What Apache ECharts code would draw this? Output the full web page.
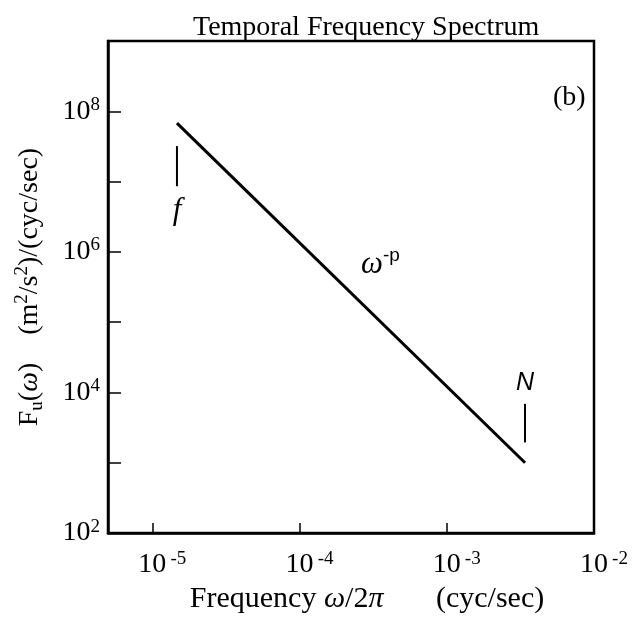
<!DOCTYPE html>
<html>
<head>
<meta charset="utf-8">
<script src="https://cdn.jsdelivr.net/npm/echarts@6/dist/echarts.min.js"></script>
<style>html,body{margin:0;padding:0;background:#fff}#c{width:635px;height:619px}</style>
</head>
<body>
<div id="c"></div>
<script>
// ---- data ----
const xRange = [5.0e-6, 1.0e-2];          // frequency axis extent (cyc/sec)
const yRange = [1.0e2, 1.0e9];            // spectral density axis extent
const xLabelExponents = [-5, -4, -3, -2]; // labelled decades on x
const yLabelExponents = [2, 4, 6, 8];     // labelled decades on y
const spectrumFreq  = [1.47e-5, 3.4e-3];  // ω^-p line end points
const spectrumPower = [6.8e7, 1.0e3];
const fMarkFreq  = [1.47e-5, 1.47e-5];    // inertial frequency marker
const fMarkPower = [3.2e7, 8.6e6];
const nMarkFreq  = [3.4e-3, 3.4e-3];      // buoyancy frequency marker
const nMarkPower = [6.9e3, 1.95e3];

const SERIF = '"Liberation Serif", "DejaVu Serif", serif';
const SANS = '"Liberation Sans", "DejaVu Sans", sans-serif';
const chart = echarts.init(document.getElementById('c'), null, {renderer: 'canvas'});

function pairs(xs, ys) { return xs.map((x, i) => [x, ys[i]]); }
function expOf(v) { const e = Math.log10(v); return Math.abs(e - Math.round(e)) < 0.02 ? Math.round(e) : null; }

const supRich = {
  b: {fontFamily: SERIF, fontSize: 28, lineHeight: 32, color: '#000'},
  s: {fontFamily: SERIF, fontSize: 19, lineHeight: 14, verticalAlign: 'top', color: '#000'}
};

const option = {
  animation: false,
  backgroundColor: '#fff',
  title: {
    text: 'Temporal Frequency Spectrum',
    left: 188, top: 9,
    textStyle: {fontFamily: SERIF, fontSize: 28, fontWeight: 'normal', color: '#000'}
  },
  grid: {left: 108, right: 29, top: 41, bottom: 79, show: true, borderColor: '#000', borderWidth: 2.5, containLabel: false},
  xAxis: {
    type: 'log', logBase: 10, min: xRange[0], max: xRange[1],
    name: '{t|Frequency }{g|ω}{t|/2}{g|π}{t|       (cyc/sec)}',
    nameLocation: 'middle', nameGap: 47,
    nameTextStyle: {
      padding: [0, 0, 0, 32],
      rich: {
        t: {fontFamily: SERIF, fontSize: 30, color: '#000'},
        g: {fontFamily: SERIF, fontSize: 30, fontStyle: 'italic', color: '#000'}
      }
    },
    axisLine: {show: true, onZero: false, lineStyle: {color: '#000', width: 2.5}},
    axisTick: {show: true, inside: true, length: 10, lineStyle: {color: '#000', width: 1.5}},
    splitLine: {show: false},
    minorTick: {show: false},
    axisLabel: {
      margin: 16,
      formatter: function (v) {
        const e = expOf(v);
        if (e === null || xLabelExponents.indexOf(e) < 0) return '';
        return '{p| }{b|10}{s|' + e + '}';
      },
      rich: {
        p: {width: 24, fontSize: 15},
        b: supRich.b,
        s: {fontFamily: SERIF, fontSize: 19, lineHeight: 14, verticalAlign: 'top', color: '#000', width: 24, align: 'left'}
      }
    }
  },
  yAxis: {
    type: 'log', logBase: 10, min: yRange[0], max: yRange[1], splitNumber: 7,
    name: '{t|F}{sub|u}{t|(}{g|ω}{t|)    (m}{sup|2}{t|/s}{sup|2}{t|)/(cyc/sec)}',
    nameLocation: 'middle', nameGap: 61, nameRotate: 90,
    nameTextStyle: {
      rich: {
        t: {fontFamily: SERIF, fontSize: 28, lineHeight: 34, color: '#000'},
        g: {fontFamily: SERIF, fontSize: 28, lineHeight: 34, fontStyle: 'italic', color: '#000'},
        sup: {fontFamily: SERIF, fontSize: 19, lineHeight: 14, verticalAlign: 'top', color: '#000'},
        sub: {fontFamily: SERIF, fontSize: 19, lineHeight: 14, verticalAlign: 'bottom', color: '#000'}
      }
    },
    axisLine: {show: true, onZero: false, lineStyle: {color: '#000', width: 2.5}},
    axisTick: {show: true, inside: true, length: 13, lineStyle: {color: '#000', width: 1.5}},
    splitLine: {show: false},
    axisLabel: {
      margin: 8,
      formatter: function (v) {
        const e = expOf(v);
        if (e === null || yLabelExponents.indexOf(e) < 0) return '';
        return '{b|10}{s|' + e + '}';
      },
      rich: supRich
    }
  },
  graphic: [
    {type: 'text', left: 553, top: 84, style: {text: '(b)', font: '28px ' + SERIF, fill: '#000'}},
    {type: 'text', left: 361, top: 246, style: {
      text: '{w|ω}{s|-p}', rich: {
        w: {fontFamily: SERIF, fontSize: 31, fontStyle: 'italic', lineHeight: 38, fill: '#000'},
        s: {fontFamily: SANS, fontSize: 19, lineHeight: 16, verticalAlign: 'top', fill: '#000'}
      }}}
  ],
  series: [
    {
      type: 'line', data: pairs(spectrumFreq, spectrumPower), symbol: 'none',
      lineStyle: {color: '#000', width: 3}, z: 3
    },
    {
      type: 'line', data: pairs(fMarkFreq, fMarkPower).map((p, i) => ({
        value: p,
        label: i === 1 ? {show: true, position: 'bottom', distance: 9, formatter: 'f',
          fontFamily: SERIF, fontStyle: 'italic', fontSize: 31, color: '#000'} : {show: false}
      })),
      symbol: 'circle', symbolSize: 0.01, lineStyle: {color: '#000', width: 2}
    },
    {
      type: 'line', data: pairs(nMarkFreq, nMarkPower).map((p, i) => ({
        value: p,
        label: i === 0 ? {show: true, position: 'top', distance: 8, formatter: 'N',
          fontFamily: SANS, fontStyle: 'italic', fontSize: 25, color: '#000'} : {show: false}
      })),
      symbol: 'circle', symbolSize: 0.01, lineStyle: {color: '#000', width: 2}
    }
  ]
};
chart.setOption(option);
</script>
</body>
</html>
